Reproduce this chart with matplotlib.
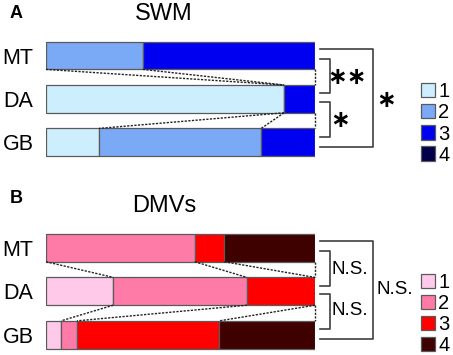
import numpy as np
import matplotlib
matplotlib.use("Agg")
from matplotlib import pyplot as plt
from matplotlib.patches import Patch

plt.rcParams['font.family'] = ['Liberation Sans', 'DejaVu Sans']

groups = ["MT", "DA", "GB"]
levels = ["1", "2", "3", "4"]

# percentages per group, levels 1..4
swm_values = [[0, 36, 64, 0],
              [88.5, 0, 11.5, 0],
              [19.7, 60.3, 20, 0]]
dmv_values = [[0, 55.3, 11, 33.7],
              [25, 49.7, 25.3, 0],
              [5.6, 5.9, 52.9, 35.6]]

swm_colors = ["#cdeefd", "#7aaaf6", "#0000f0", "#00004a"]
dmv_colors = ["#ffc9ea", "#ff7ba7", "#ff0000", "#3f0000"]

swm_marks = ["\u2217\u2217", "\u2217", "\u2217"]
dmv_marks = ["N.S.", "N.S.", "N.S."]

W, H = 453, 355
bar_h = 0.64


def px(x, y, w, h):
    return [x / W, 1 - (y + h) / H, w / W, h / H]


def draw_panel(ax, values, colors, title, letter, marks, title_y, letter_y, leg_y):
    values = np.array(values)
    ypos = np.arange(len(groups))
    left = np.zeros(len(groups))
    for k in range(len(levels)):
        ax.barh(ypos, values[:, k], left=left, height=bar_h, color=colors[k],
                edgecolor="#5a5a5a", linewidth=0.9)
        left = left + values[:, k]
    cum = np.cumsum(values, axis=1)
    for i in range(len(groups) - 1):
        for k in range(len(levels)):
            if k < len(levels) - 1 and cum[i, k] == cum[i, k + 1] and cum[i + 1, k] == cum[i + 1, k + 1] and k > 0:
                continue
            ax.plot([cum[i, k], cum[i + 1, k]], [i + bar_h / 2, i + 1 - bar_h / 2],
                    color="#222222", lw=1.0, ls=(0, (1.6, 1.0)), clip_on=False)
    ax.set_xlim(0, 100)
    ax.set_ylim(2.5, -0.5)
    ax.set_yticks(ypos, groups, fontsize=15.5)
    ax.tick_params(axis="y", length=0, pad=9)
    ax.set_xticks([])
    for s in ax.spines.values():
        s.set_visible(False)

    # brackets
    bk = dict(color="#404040", lw=1.2, clip_on=False)
    for i in range(2):
        ax.plot([102, 105.6, 105.6, 102], [i + 0.07, i + 0.07, i + 0.87, i + 0.87], **bk)
    ax.plot([102, 121.6, 121.6, 102], [-0.15, -0.15, 2.1, 2.1], **bk)

    if marks[0] == "N.S.":
        ax.text(106.3, 0.49, marks[0], fontsize=13.5, ha="left", va="center")
        ax.text(106.3, 1.45, marks[1], fontsize=13.5, ha="left", va="center")
        ax.text(122.9, 0.97, marks[2], fontsize=13.5, ha="left", va="center")
    else:
        st = dict(fontsize=17, ha="center", va="center", family="DejaVu Sans", fontweight="bold")
        ax.text(111.8, 0.49, marks[0], **st)
        ax.text(109.2, 1.49, marks[1], **st)
        ax.text(126.4, 1.02, marks[2], **st)

    handles = [Patch(facecolor=c, edgecolor="#5a5a5a", linewidth=0.9) for c in colors]
    ax.legend(handles, levels, loc="center left", bbox_to_anchor=(421 / W, 1 - leg_y / H),
              bbox_transform=fig.transFigure, frameon=False, fontsize=14.5,
              handlelength=0.7, handleheight=0.7, handletextpad=0.15,
              labelspacing=0.1, borderpad=0, borderaxespad=0)

    fig.text(164 / W, 1 - title_y / H, title, fontsize=17, ha="center", va="center")
    fig.text(10 / W, 1 - letter_y / H, letter, fontsize=13, fontweight="bold", ha="left", va="center")


fig = plt.figure(figsize=(W / 100, H / 100), dpi=100)
ax1 = fig.add_axes(px(46, 33.8, 269, 130.2))
ax2 = fig.add_axes(px(46, 226.1, 269, 130.4))

draw_panel(ax1, swm_values, swm_colors, "SWM", "A", swm_marks, 14, 13.5, 123.5)
draw_panel(ax2, dmv_values, dmv_colors, "DMVs", "B", dmv_marks, 206.5, 198.5, 314)

fig.savefig("out.png", dpi=100)
